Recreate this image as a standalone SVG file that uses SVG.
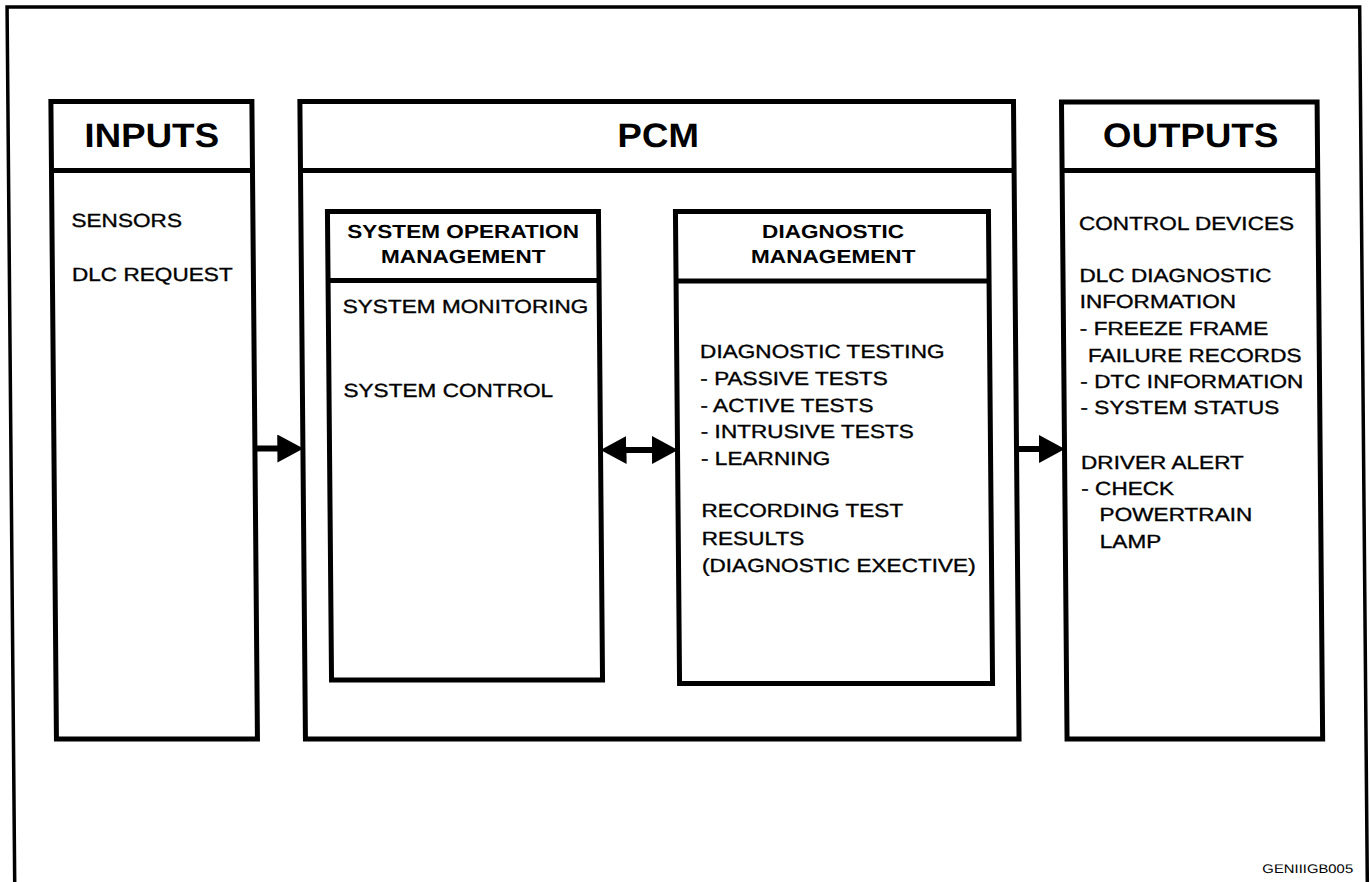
<svg xmlns="http://www.w3.org/2000/svg" width="1370" height="882" viewBox="0 0 1370 882">
<style>
.box{fill:none;stroke:#000;stroke-width:5}
.div{stroke:#000;stroke-width:5}
.frame{fill:none;stroke:#000;stroke-width:3.5}
text{font-family:"Liberation Sans",Arial,Helvetica,sans-serif;fill:#000}
.h1{font-weight:bold;font-size:34px;text-anchor:middle}
.h2{font-weight:bold;font-size:19px;text-anchor:middle}
.t{font-size:19px;stroke:#000;stroke-width:0.35}
.tag{font-size:12.5px;text-anchor:end}
.conn{stroke:#000;stroke-width:6;fill:none}
</style>
<defs>
<marker id="ah" markerUnits="userSpaceOnUse" markerWidth="26" markerHeight="28" viewBox="0 0 25 27" refX="15" refY="13.5" orient="auto-start-reverse">
<path d="M0,0 L25,13.5 L0,27 z" fill="#000"/>
</marker>
</defs>
<rect width="1370" height="882" fill="#fff"/>
<g transform="skewX(0.5)">
<path id="frame" class="frame" d="M7,890 V7 H1359.6 V890"/>

<g id="inputs">
<rect class="box" x="50" y="101.5" width="201" height="637.5"/>
<line class="div" x1="50" y1="170.5" x2="251" y2="170.5"/>
<g transform="scale(1.08,1)"><text class="h1" x="139.4" y="147">INPUTS</text></g>
<g transform="scale(1.19,1)">
<text class="t" x="58.4" y="227">SENSORS</text>
<text class="t" x="58.4" y="281">DLC REQUEST</text>
</g>
</g>

<g id="pcm">
<rect class="box" x="299" y="101.5" width="713.6" height="637.5"/>
<line class="div" x1="299" y1="170.5" x2="1012.6" y2="170.5"/>
<g transform="scale(1.08,1)"><text class="h1" x="608.3" y="147">PCM</text></g>
</g>

<g id="system-operation-management">
<rect class="box" x="325.6" y="211.5" width="271" height="468.5"/>
<line class="div" x1="325.6" y1="280.5" x2="596.6" y2="280.5"/>
<g transform="scale(1.19,1)">
<text class="h2" x="387.4" y="238">SYSTEM OPERATION</text>
<text class="h2" x="387.4" y="263">MANAGEMENT</text>
<text class="t" x="285.7" y="313">SYSTEM MONITORING</text>
<text class="t" x="285.7" y="397">SYSTEM CONTROL</text>
</g>
</g>

<g id="diagnostic-management">
<rect class="box" x="673.6" y="211.5" width="313" height="472"/>
<line class="div" x1="673.6" y1="281" x2="986.6" y2="281"/>
<g transform="scale(1.19,1)">
<text class="h2" x="698.3" y="238">DIAGNOSTIC</text>
<text class="h2" x="698.3" y="263">MANAGEMENT</text>
<text class="t" x="585.7" y="358">DIAGNOSTIC TESTING</text>
<text class="t" x="585.7" y="385">- PASSIVE TESTS</text>
<text class="t" x="585.7" y="412">- ACTIVE TESTS</text>
<text class="t" x="585.7" y="438">- INTRUSIVE TESTS</text>
<text class="t" x="585.7" y="465">- LEARNING</text>
<text class="t" x="585.7" y="517">RECORDING TEST</text>
<text class="t" x="585.7" y="545">RESULTS</text>
<text class="t" x="585.7" y="572">(DIAGNOSTIC EXECTIVE)</text>
</g>
</g>

<g id="outputs">
<rect class="box" x="1060.6" y="102" width="255.6" height="637"/>
<line class="div" x1="1060.6" y1="170.5" x2="1316.2" y2="170.5"/>
<g transform="scale(1.08,1)"><text class="h1" x="1101.4" y="147">OUTPUTS</text></g>
<g transform="scale(1.19,1)">
<text class="t" x="905" y="230">CONTROL DEVICES</text>
<text class="t" x="905" y="282">DLC DIAGNOSTIC</text>
<text class="t" x="905" y="308">INFORMATION</text>
<text class="t" x="905" y="335">- FREEZE FRAME</text>
<text class="t" x="911.7" y="362">FAILURE RECORDS</text>
<text class="t" x="905" y="388">- DTC INFORMATION</text>
<text class="t" x="905" y="414">- SYSTEM STATUS</text>
<text class="t" x="905" y="469">DRIVER ALERT</text>
<text class="t" x="905" y="495">- CHECK</text>
<text class="t" x="920.2" y="521">POWERTRAIN</text>
<text class="t" x="920.2" y="548">LAMP</text>
</g>
</g>

<g id="connectors">
<line class="conn" x1="251" y1="448.5" x2="289" y2="448.5" marker-end="url(#ah)"/>
<line class="conn" x1="607" y1="450" x2="663.6" y2="450" marker-start="url(#ah)" marker-end="url(#ah)"/>
<line class="conn" x1="1012.6" y1="449" x2="1050.6" y2="449" marker-end="url(#ah)"/>
</g>

<g id="label">
<g transform="scale(1.19,1)"><text class="tag" x="1130.7" y="873">GENIIIGB005</text></g>
</g>
</g>
</svg>
